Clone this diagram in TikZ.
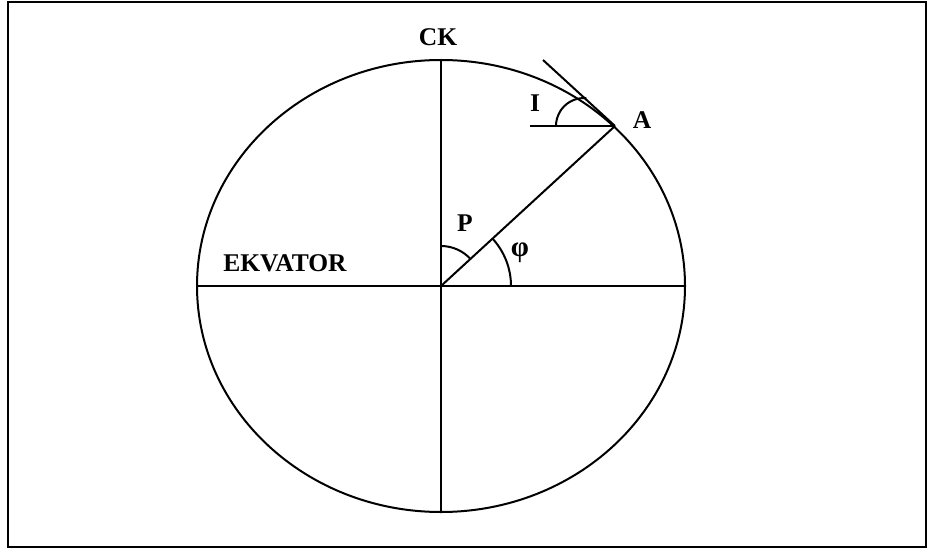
\documentclass[tikz,border=0pt]{standalone}
\usepackage{fontspec}
\setmainfont{Liberation Serif}
\begin{document}
\begin{tikzpicture}[x=1pt,y=1pt,line width=2pt,
  lbl/.style={font=\fontsize{25.5}{25.5}\selectfont\bfseries, inner sep=0pt}]
\useasboundingbox (0,0) rectangle (928,550);
\draw[line width=1.6pt] (8,3) rectangle (926,548);
\coordinate (O) at (441,264);
\coordinate (N) at (441,490);
\coordinate (S) at (441,38);
\coordinate (W) at (197,264);
\coordinate (E) at (685,264);
\coordinate (A) at (615,424);
\coordinate (H) at (530,424);
\coordinate (T) at (543,490);
\draw (O) ellipse [x radius=244pt, y radius=226pt];
\draw (W) -- (E);
\draw (S) -- (N);
\draw (O) -- (A);
\draw (H) -- (A);
\draw (T) -- (A);
\draw (441,304) arc [start angle=90, end angle=42.6, radius=40pt];
\draw (511,264) arc [start angle=0, end angle=42.6, radius=70pt];
\draw (556,424) arc [start angle=180, end angle=85, radius=28pt];
\node[lbl] (ck) at (438,513) {CK};
\node[lbl] (la) at (642,430) {A};
\node[lbl] (li) at (535,447) {I};
\node[lbl] (lp) at (465,327) {P};
\node[lbl, font=\fontsize{29}{29}\selectfont\bfseries] (lphi) at (520,297) {φ};
\node[lbl] (ekv) at (285,287) {EKVATOR};
\end{tikzpicture}
\end{document}
